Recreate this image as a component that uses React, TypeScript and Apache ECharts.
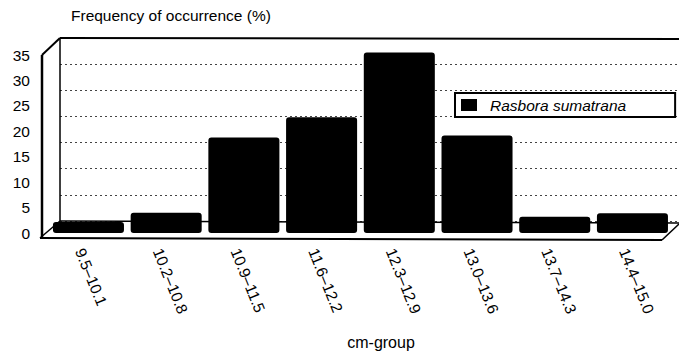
import React, { useEffect, useRef } from 'react';
import * as echarts from 'echarts';

const categories = ['9.5–10.1', '10.2–10.8', '10.9–11.5', '11.6–12.2', '12.3–12.9', '13.0–13.6', '13.7–14.3', '14.4–15.0'];
const frequency = [1.0, 2.8, 17.6, 21.6, 34.3, 18.0, 2.0, 2.7];
const yTicks = [0, 5, 10, 15, 20, 25, 30, 35];
const seriesName = 'Rasbora sumatrana';
const yTitle = 'Frequency of occurrence (%)';
const xTitle = 'cm-group';

const FONT = "'Liberation Sans', Arial, Helvetica, sans-serif";

export default function App() {
  const ref = useRef<HTMLDivElement>(null);
  useEffect(() => {
    const chart = echarts.init(ref.current!, null, { renderer: 'svg' });
    const yMax = yTicks[yTicks.length - 1];
    const yInterval = yTicks[1] - yTicks[0];
    const line = (x1: number, y1: number, x2: number, y2: number, w: number) => ({
      type: 'line',
      z: 1,
      shape: { x1, y1, x2, y2 },
      style: { stroke: '#000', lineWidth: w },
    });
    const option: any = {
      animation: false,
      backgroundColor: '#fff',
      textStyle: { fontFamily: FONT, color: '#000' },
      title: {
        text: yTitle,
        left: 71,
        top: 7,
        padding: 0,
        textStyle: { fontSize: 15.5, fontWeight: 'normal', color: '#000', fontFamily: FONT },
      },
      legend: {
        left: 455,
        top: 93,
        padding: [4, 49, 4, 6],
        itemWidth: 16,
        itemHeight: 12,
        borderColor: '#000',
        borderWidth: 2,
        backgroundColor: '#fff',
        data: [{ name: seriesName, icon: 'rect' }],
        textStyle: { fontStyle: 'italic', fontSize: 15.5, color: '#000', fontFamily: FONT, padding: [0, 0, 0, 8] },
      },
      grid: [
        { left: 60, top: 38, width: 619, height: 183 },
        { left: 42, top: 55, width: 622, height: 178 },
        { left: 49.6, top: 49, width: 621.7, height: 178 },
        { left: 41, top: 50, width: 621.7, height: 191 },
      ],
      xAxis: [
        { gridIndex: 0, type: 'category', data: categories, show: false },
        { gridIndex: 1, type: 'category', data: categories, show: false },
        { gridIndex: 2, type: 'category', data: categories, show: false },
        {
          gridIndex: 3,
          type: 'category',
          data: categories,
          axisLine: { show: false },
          axisTick: { show: false },
          splitLine: { show: false },
          axisLabel: { rotate: -68, margin: 8, fontSize: 15.5, color: '#000', fontFamily: FONT, interval: 0 },
        },
      ],
      yAxis: [
        {
          gridIndex: 0, type: 'value', min: 0, max: yMax, interval: yInterval,
          axisLine: { show: false }, axisTick: { show: false }, axisLabel: { show: false },
          splitLine: { show: true, lineStyle: { color: '#444', type: [2, 3], width: 1 } },
        },
        {
          gridIndex: 1, type: 'value', min: 0, max: yMax, interval: yInterval,
          axisLine: { show: false }, axisTick: { show: false },
          axisLabel: { fontSize: 15.5, color: '#000', margin: 12, fontFamily: FONT },
          splitLine: { show: false },
        },
        { gridIndex: 2, type: 'value', min: 0, max: yMax, show: false, splitLine: { show: false } },
        { gridIndex: 3, type: 'value', min: 0, max: yMax, show: false, splitLine: { show: false } },
      ],
      series: [
        {
          type: 'custom',
          name: seriesName,
          xAxisIndex: 2,
          yAxisIndex: 2,
          itemStyle: { color: '#000' },
          data: frequency.map((v, i) => [i, v]),
          renderItem: (params: any, api: any) => {
            const i = api.value(0);
            const v = api.value(1);
            const top = api.coord([i, v]);
            const base = api.coord([i, 0]);
            const w = api.size([1, 0])[0] * 0.914;
            return {
              type: 'rect',
              shape: { x: top[0] - w / 2, y: top[1], width: w, height: base[1] + 6 - top[1], r: 3 },
              style: { fill: '#000' },
            };
          },
        },
      ],
      graphic: [
        line(60, 38, 679, 39, 2),
        line(60, 38, 60, 221, 1.5),
        line(60, 221, 679, 223, 1.5),
        line(40, 238, 662, 240, 2),
        line(662, 240, 679, 224, 1.5),
        line(40, 238, 60, 221, 1.5),
        line(42, 55, 60, 38, 2),
        line(42, 55, 42, 237, 2.5),
        {
          type: 'text',
          x: 381,
          y: 342,
          style: { text: xTitle, fontSize: 16, fontFamily: FONT, fill: '#000', textAlign: 'center', textVerticalAlign: 'middle' },
        },
      ],
    };
    chart.setOption(option);
    return () => chart.dispose();
  }, []);
  return <div ref={ref} style={{ position: 'fixed', left: 0, top: 0, width: 679, height: 355 }} />;
}
